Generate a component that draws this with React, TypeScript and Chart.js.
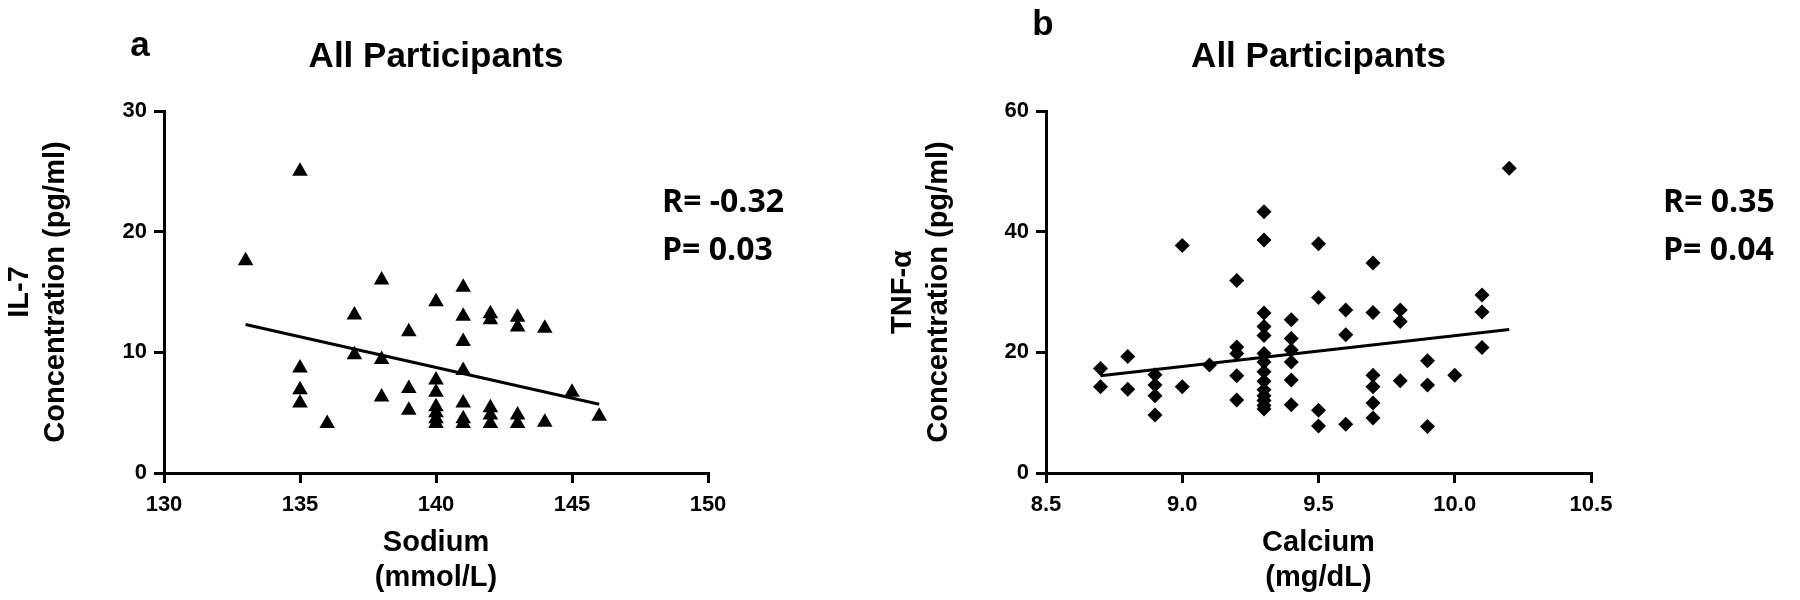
import React, { useEffect, useRef } from 'react';
import { Chart, registerables } from 'chart.js';

Chart.register(...registerables);

// ---------- Panel a: Sodium vs IL-7 ----------
const sodiumX = [
  133,
  135, 135, 135, 135,
  136,
  137, 137,
  138, 138, 138,
  139, 139, 139,
  140, 140, 140, 140, 140, 140, 140,
  141, 141, 141, 141, 141, 141, 141,
  142, 142, 142, 142, 142,
  143, 143, 143, 143,
  144, 144,
  145,
  146,
];
const il7Y = [
  17.6,
  25.0, 8.7, 6.9, 5.8,
  4.1,
  13.1, 9.8,
  16.0, 9.4, 6.3,
  11.7, 7.0, 5.2,
  14.2, 7.7, 6.7, 5.5, 5.0, 4.5, 4.1,
  15.4, 13.0, 10.9, 8.5, 5.8, 4.5, 4.1,
  13.2, 12.7, 5.4, 4.8, 4.1,
  12.9, 12.1, 4.8, 4.1,
  12.0, 4.2,
  6.7,
  4.7,
];
const fitAX = [133, 146];
const fitAY = [12.3, 5.7];
const ticksAX = [130, 135, 140, 145, 150];
const ticksAY = [0, 10, 20, 30];

// ---------- Panel b: Calcium vs TNF-alpha ----------
const calciumX = [
  8.7, 8.7,
  8.8, 8.8,
  8.9, 8.9, 8.9, 8.9,
  9.0, 9.0,
  9.1,
  9.2, 9.2, 9.2, 9.2, 9.2,
  9.3, 9.3, 9.3, 9.3, 9.3, 9.3, 9.3, 9.3, 9.3, 9.3, 9.3, 9.3, 9.3, 9.3,
  9.4, 9.4, 9.4, 9.4, 9.4, 9.4,
  9.5, 9.5, 9.5, 9.5,
  9.6, 9.6, 9.6,
  9.7, 9.7, 9.7, 9.7, 9.7, 9.7,
  9.8, 9.8, 9.8,
  9.9, 9.9, 9.9,
  10.0,
  10.1, 10.1, 10.1,
  10.2,
];
const tnfY = [
  17.3, 14.3,
  19.3, 13.9,
  16.3, 14.6, 12.8, 9.6,
  37.7, 14.3,
  17.9,
  31.9, 20.9, 19.8, 16.1, 12.1,
  43.3, 38.6, 26.5, 24.3, 22.8, 19.8, 18.4, 16.8, 15.2, 13.8, 12.8, 12.0, 11.2, 10.6,
  25.4, 22.3, 20.4, 18.4, 15.4, 11.3,
  38.0, 29.1, 10.4, 7.8,
  27.0, 22.9, 8.1,
  34.8, 26.6, 16.2, 14.3, 11.6, 9.1,
  27.0, 25.1, 15.3,
  18.6, 14.6, 7.7,
  16.2,
  29.5, 26.7, 20.8,
  50.5,
];
const fitBX = [8.7, 10.2];
const fitBY = [16.1, 23.8];
const ticksBX = [8.5, 9.0, 9.5, 10.0, 10.5];
const ticksBY = [0, 20, 40, 60];

const titleText = 'All Participants';
const statsA = ['R= -0.32', 'P= 0.03'];
const statsB = ['R= 0.35', 'P= 0.04'];

const FONT = '"Liberation Sans", Arial, Helvetica, sans-serif';

type PanelCfg = {
  xs: number[];
  ys: number[];
  fitX: number[];
  fitY: number[];
  xTicks: number[];
  yTicks: number[];
  xDecimals: number;
  pointStyle: string;
  pointRadius: number;
  padLeft: number;
  yWidth: number;
  padRight: number;
  yTitlePadTop: number;
  yTitle: string[];
  xTitle: string[];
  letter: string;
  letterX: number;
  letterBase: number;
  stats: string[];
  statsX: number;
};

function makeConfig(p: PanelCfg): any {
  const pts = p.xs.map((x, i) => ({ x, y: p.ys[i] }));
  const fit = p.fitX.map((x, i) => ({ x, y: p.fitY[i] }));
  const textPlugin = {
    id: 'panelText',
    afterDraw(chart: any) {
      const ctx = chart.ctx;
      const a = chart.chartArea;
      ctx.save();
      ctx.fillStyle = '#000';
      ctx.textBaseline = 'alphabetic';
      ctx.font = `bold 35px ${FONT}`;
      ctx.textAlign = 'center';
      ctx.fillText(titleText, (a.left + a.right) / 2, 67);
      ctx.fillText(p.letter, p.letterX, p.letterBase);
      ctx.font = 'bold 32px "Open Sans", "Liberation Sans", sans-serif';
      ctx.textAlign = 'left';
      ctx.fillText(p.stats[0], p.statsX, 212);
      ctx.fillText(p.stats[1], p.statsX, 260);
      ctx.restore();
    },
  };
  const gridOpts = {
    display: true,
    drawOnChartArea: false,
    drawTicks: true,
    tickLength: 10,
    color: '#000',
    lineWidth: 3,
  };
  const borderOpts = { display: true, color: '#000', width: 3 };
  return {
    type: 'scatter',
    data: {
      datasets: [
        {
          data: pts,
          pointStyle: p.pointStyle,
          pointRadius: p.pointRadius,
          pointHoverRadius: p.pointRadius,
          backgroundColor: '#000',
          borderColor: '#000',
          borderWidth: 0,
          showLine: false,
        },
        {
          data: fit,
          showLine: true,
          borderColor: '#000',
          borderWidth: 3,
          pointRadius: 0,
          fill: false,
        },
      ],
    },
    options: {
      responsive: false,
      animation: false,
      devicePixelRatio: 1,
      layout: { padding: { left: p.padLeft, right: p.padRight, top: 111, bottom: 0 } },
      plugins: {
        legend: { display: false },
        tooltip: { enabled: false },
        title: { display: false },
      },
      scales: {
        x: {
          type: 'linear',
          min: p.xTicks[0],
          max: p.xTicks[p.xTicks.length - 1],
          afterBuildTicks: (s: any) => {
            s.ticks = p.xTicks.map((v) => ({ value: v }));
          },
          ticks: {
            color: '#000',
            font: { family: FONT, size: 22, weight: 'bold' },
            padding: 9,
            maxRotation: 0,
            autoSkip: false,
            callback: (v: any) => Number(v).toFixed(p.xDecimals),
          },
          grid: gridOpts,
          border: borderOpts,
          title: {
            display: true,
            text: p.xTitle,
            color: '#000',
            font: { family: FONT, size: 29, weight: 'bold', lineHeight: 1.2 },
            padding: { top: 0, bottom: 4.5 },
          },
          afterFit: (s: any) => {
            s.height = 600 - 473;
          },
        },
        y: {
          type: 'linear',
          min: p.yTicks[0],
          max: p.yTicks[p.yTicks.length - 1],
          afterBuildTicks: (s: any) => {
            s.ticks = p.yTicks.map((v) => ({ value: v }));
          },
          ticks: {
            color: '#000',
            font: { family: FONT, size: 22, weight: 'bold' },
            padding: 7,
            autoSkip: false,
          },
          grid: gridOpts,
          border: borderOpts,
          title: {
            display: true,
            text: p.yTitle,
            color: '#000',
            font: { family: FONT, size: 29, weight: 'bold', lineHeight: 1.25 },
            padding: { top: p.yTitlePadTop, bottom: 0 },
          },
          afterFit: (s: any) => {
            s.width = p.yWidth;
          },
        },
      },
    },
    plugins: [textPlugin],
  };
}

const panelA: PanelCfg = {
  xs: sodiumX,
  ys: il7Y,
  fitX: fitAX,
  fitY: fitAY,
  xTicks: ticksAX,
  yTicks: ticksAY,
  xDecimals: 0,
  pointStyle: 'triangle',
  pointRadius: 9,
  padLeft: 0,
  yWidth: 164,
  padRight: 1800 - 708,
  yTitlePadTop: 2,
  yTitle: ['IL-7', 'Concentration (pg/ml)'],
  xTitle: ['Sodium', '(mmol/L)'],
  letter: 'a',
  letterX: 140,
  letterBase: 56,
  stats: statsA,
  statsX: 662,
};

const panelB: PanelCfg = {
  xs: calciumX,
  ys: tnfY,
  fitX: fitBX,
  fitY: fitBY,
  xTicks: ticksBX,
  yTicks: ticksBY,
  xDecimals: 1,
  pointStyle: 'rectRot',
  pointRadius: 7.5,
  padLeft: 860,
  yWidth: 186,
  padRight: 1800 - 1591,
  yTitlePadTop: 24.8,
  yTitle: ['TNF-α', 'Concentration (pg/ml)'],
  xTitle: ['Calcium', '(mg/dL)'],
  letter: 'b',
  letterX: 1043,
  letterBase: 35,
  stats: statsB,
  statsX: 1663,
};

export default function App() {
  const refA = useRef<HTMLCanvasElement | null>(null);
  const refB = useRef<HTMLCanvasElement | null>(null);

  useEffect(() => {
    const ca = refA.current;
    const cb = refB.current;
    if (!ca || !cb) return;
    const chartA = new Chart(ca, makeConfig(panelA));
    const chartB = new Chart(cb, makeConfig(panelB));
    return () => {
      chartA.destroy();
      chartB.destroy();
    };
  }, []);

  const canvasStyle: React.CSSProperties = {
    position: 'absolute',
    left: 0,
    top: 0,
    width: 1800,
    height: 600,
  };

  return (
    <div
      style={{
        position: 'fixed',
        left: 0,
        top: 0,
        width: 1800,
        height: 600,
        background: '#fff',
      }}
    >
      <canvas ref={refA} width={1800} height={600} style={canvasStyle} />
      <canvas ref={refB} width={1800} height={600} style={canvasStyle} />
    </div>
  );
}
